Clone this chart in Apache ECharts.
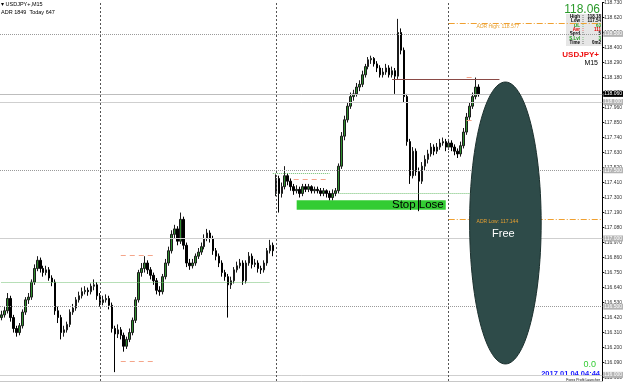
<!DOCTYPE html>
<html><head><meta charset="utf-8">
<script src="https://cdn.jsdelivr.net/npm/echarts@6/dist/echarts.min.js"></script>
<style>html,body{margin:0;padding:0;background:#fff}#c{width:625px;height:382px}</style>
</head><body><div id="c"></div>
<script>
// ---- data ----
const categories = Array.from({length: 202}, (_, i) => 'b' + i);
const opens = [116.42,116.44,116.47,116.56,116.42,116.34,116.31,116.36,116.46,116.55,
116.57,116.68,116.78,116.84,116.78,116.75,116.77,116.71,116.68,116.47,
116.42,116.31,116.33,116.37,116.46,116.49,116.55,116.58,116.61,116.62,
116.61,116.65,116.66,116.58,116.53,116.55,116.56,116.51,116.34,116.30,
116.33,116.29,116.21,116.26,116.31,116.40,116.55,116.75,116.78,116.82,
116.77,116.73,116.69,116.62,116.61,116.72,116.82,116.91,117.03,117.07,
116.98,117.14,116.95,116.82,116.80,116.82,116.87,116.90,116.94,117.00,
117.04,117.00,116.91,116.87,116.82,116.75,116.72,116.66,116.69,116.77,
116.80,116.82,116.69,116.82,116.87,116.81,116.82,116.78,116.77,116.82,
116.91,116.95,117.33,117.44,117.33,117.38,117.46,117.42,117.38,117.35,
117.36,117.33,117.38,117.36,117.38,117.35,117.36,117.35,117.33,117.35,
117.33,117.30,117.33,117.35,117.53,117.75,117.87,117.97,118.04,118.06,
118.11,118.13,118.20,118.26,118.31,118.32,118.28,118.25,118.20,118.22,
118.25,118.20,118.23,118.19,118.51,118.38,118.04,117.71,117.46,117.64,
117.49,117.42,117.53,117.58,117.62,117.67,117.64,117.67,117.70,117.71,
117.67,117.70,117.67,117.64,117.62,117.68,117.78,117.89,117.97,118.04,
118.11];
const closes = [116.44,116.47,116.56,116.42,116.34,116.31,116.36,116.46,116.55,116.57,
116.68,116.78,116.84,116.78,116.75,116.77,116.71,116.68,116.47,116.42,
116.31,116.33,116.37,116.46,116.49,116.55,116.58,116.61,116.62,116.61,
116.65,116.66,116.58,116.53,116.55,116.56,116.51,116.34,116.30,116.33,
116.29,116.21,116.26,116.31,116.40,116.55,116.75,116.78,116.82,116.77,
116.73,116.69,116.62,116.61,116.72,116.82,116.91,117.03,117.07,116.98,
117.14,116.95,116.82,116.80,116.82,116.87,116.90,116.94,117.00,117.04,
117.00,116.91,116.87,116.82,116.75,116.72,116.66,116.69,116.77,116.80,
116.82,116.69,116.82,116.87,116.81,116.82,116.78,116.77,116.82,116.91,
116.95,116.91,117.44,117.33,117.38,117.46,117.42,117.38,117.35,117.36,
117.33,117.38,117.36,117.38,117.35,117.36,117.35,117.33,117.35,117.33,
117.30,117.33,117.35,117.53,117.75,117.87,117.97,118.04,118.06,118.11,
118.13,118.20,118.26,118.31,118.32,118.28,118.25,118.20,118.22,118.25,
118.20,118.23,118.19,118.51,118.38,118.04,117.71,117.46,117.64,117.49,
117.42,117.53,117.58,117.62,117.67,117.64,117.67,117.70,117.71,117.67,
117.70,117.67,117.64,117.62,117.68,117.78,117.89,117.97,118.04,118.11,
118.06];
const highs = [116.47,116.50,116.60,116.58,116.44,116.36,116.38,116.48,116.57,116.60,
116.70,116.81,116.87,116.86,116.80,116.80,116.79,116.73,116.70,116.50,
116.44,116.36,116.39,116.48,116.52,116.57,116.61,116.64,116.65,116.64,
116.67,116.70,116.68,116.60,116.58,116.59,116.58,116.53,116.36,116.37,
116.35,116.31,116.28,116.34,116.42,116.57,116.77,116.82,116.87,116.84,
116.79,116.75,116.71,116.65,116.74,116.85,116.94,117.06,117.10,117.09,
117.19,117.16,116.97,116.85,116.85,116.89,116.93,116.97,117.03,117.07,
117.06,117.02,116.93,116.89,116.84,116.77,116.74,116.72,116.79,116.83,
116.85,116.84,116.84,116.90,116.89,116.85,116.84,116.80,116.84,116.93,
116.99,116.97,117.47,117.46,117.41,117.53,117.48,117.44,117.40,117.39,
117.38,117.40,117.40,117.40,117.39,117.38,117.38,117.37,117.37,117.36,
117.35,117.36,117.37,117.55,117.78,117.90,118.00,118.07,118.09,118.14,
118.16,118.23,118.28,118.33,118.34,118.33,118.30,118.27,118.25,118.28,
118.27,118.26,118.25,118.61,118.54,118.40,118.06,117.73,117.67,117.66,
117.52,117.56,117.61,117.65,117.70,117.69,117.70,117.73,117.74,117.73,
117.73,117.72,117.69,117.66,117.71,117.81,117.92,118.00,118.07,118.18,
118.13];
const lows = [116.40,116.42,116.45,116.39,116.31,116.28,116.29,116.34,116.44,116.52,
116.55,116.66,116.76,116.75,116.72,116.73,116.69,116.65,116.44,116.38,
116.26,116.28,116.31,116.35,116.44,116.47,116.53,116.56,116.59,116.58,
116.59,116.62,116.55,116.50,116.51,116.53,116.48,116.31,116.02,116.27,
116.26,116.17,116.19,116.24,116.29,116.38,116.53,116.72,116.75,116.74,
116.70,116.66,116.59,116.58,116.59,116.70,116.80,116.89,117.00,116.95,
116.96,116.92,116.79,116.77,116.78,116.80,116.85,116.88,116.92,116.98,
116.97,116.88,116.84,116.79,116.72,116.69,116.42,116.63,116.67,116.75,
116.78,116.66,116.67,116.80,116.78,116.79,116.75,116.74,116.75,116.80,
116.89,116.87,117.31,117.19,117.30,117.36,117.39,117.35,117.32,117.33,
117.30,117.31,117.34,117.34,117.33,117.33,117.33,117.31,117.31,117.30,
117.28,117.28,117.31,117.33,117.51,117.72,117.85,117.95,118.01,118.04,
118.08,118.11,118.18,118.24,118.28,118.26,118.22,118.18,118.18,118.20,
118.18,118.18,118.06,118.17,118.35,118.00,117.68,117.40,117.44,117.46,
117.20,117.40,117.50,117.55,117.60,117.61,117.62,117.65,117.68,117.64,
117.65,117.64,117.61,117.59,117.60,117.66,117.76,117.87,117.95,118.02,
118.04];
const yTicks = [115.98,116.09,116.20,116.31,116.42,116.53,116.64,116.75,116.86,116.97,117.08,117.19,117.30,117.41,117.52,117.63,117.74,117.85,117.96,118.07,118.18,118.29,118.40,118.51,118.62,118.73];
const roundLevels = [118.5, 118.0, 117.5, 117.0, 116.5, 116.0];
const currentPrice = 118.06;
const adrHigh = 118.577, adrLow = 117.144;
const daySeparators = [33, 92, 150];
const stopLose = {from: 99, to: 149, top: 117.28, bottom: 117.21};
const freeZone = [157, 181, 118.147, 116.08];

const candleData = opens.map((o, i) => [o, closes[i], lows[i], highs[i]]);
const seg = (a, b, v, style) => [{coord: [a, v], lineStyle: style}, {coord: [b, v]}];
const dotG = {type: 'dotted', color: '#6fbf6f', width: 1};
const salmon = {type: [5, 4], color: '#f4a58a', width: 1};
const adrStyle = {type: [6, 2, 1, 2], color: '#f0a030', width: 1};

const markLines = [];
roundLevels.forEach(v => {
  const half = Math.abs(v % 1 - 0.5) < 1e-6;
  markLines.push({yAxis: v,
    lineStyle: {type: half ? 'dotted' : 'solid', color: half ? '#9a9a9a' : '#cfcfcf', width: 1},
    label: {show: true, position: 'end', distance: 1, formatter: () => v.toFixed(3), fontSize: 5,
      color: '#fff', backgroundColor: '#b4b4b4', padding: [1, 1, 0, 1], fontFamily: 'Liberation Sans'}});
});
markLines.push({yAxis: currentPrice, lineStyle: {type: 'solid', color: '#bdbdbd', width: 1},
  label: {show: true, position: 'end', distance: 1, formatter: () => currentPrice.toFixed(3), fontSize: 5,
    color: '#fff', backgroundColor: '#000', padding: [1, 1, 0, 1], fontFamily: 'Liberation Sans'}});
daySeparators.forEach(x => markLines.push({xAxis: x, lineStyle: {type: [2, 2], color: '#555', width: 1}}));
markLines.push(seg(150, 201, adrHigh, adrStyle));
markLines.push(seg(150, 201, adrLow, adrStyle));
markLines.push(seg(131, 167, 118.169, {type: 'solid', color: '#8a4a46', width: 1}));
markLines.push(seg(0, 90, 116.68, dotG));
markLines.push(seg(91, 110, 117.48, dotG));
markLines.push(seg(113, 160, 117.33, dotG));
markLines.push(seg(40, 52, 116.88, salmon));
markLines.push(seg(40, 52, 116.10, salmon));
markLines.push(seg(98, 110, 117.436, salmon));
markLines.push(seg(156, 159, 118.183, salmon));
markLines.push(seg(156, 159, 117.864, salmon));

const chart = echarts.init(document.getElementById('c'), null, {renderer: 'canvas'});
const small = 'Liberation Sans';
const panelRows = [['High', '118.18', '#000'], ['Low', '117.54', '#000'], ['DL', '63', '#1a9a1a'],
  ['Avr', '111', '#e00000'], ['Sprd', '5', '#000'], ['S.Lvl', '3', '#1a9a1a'], ['Time', '0m2', '#000']];
const panelChildren = [{type: 'rect', shape: {x: 566, y: 14, width: 36, height: 32}, style: {fill: '#e6e6e6'}}];
panelRows.forEach((r, k) => {
  const y = 16.5 + k * 4.4;
  panelChildren.push({type: 'text', x: 580, y: y, style: {text: r[0], fill: r[2], font: 'bold 4.5px ' + small, align: 'right', verticalAlign: 'middle'}});
  panelChildren.push({type: 'text', x: 583, y: y, style: {text: ':', fill: r[2], font: 'bold 4.5px ' + small, align: 'center', verticalAlign: 'middle'}});
  panelChildren.push({type: 'text', x: 601, y: y, style: {text: r[1], fill: r[2], font: 'bold 4.5px ' + small, align: 'right', verticalAlign: 'middle'}});
});

chart.setOption({
  animation: false,
  backgroundColor: '#fff',
  grid: {left: 0, right: 19, top: 0, bottom: 1, containLabel: false},
  xAxis: {type: 'category', data: categories, boundaryGap: true,
    axisLine: {show: true, lineStyle: {color: '#c8c8c8'}}, axisTick: {show: false}, axisLabel: {show: false}, splitLine: {show: false}},
  yAxis: {type: 'value', position: 'right', min: 115.955, max: 118.73, scale: true,
    axisLine: {show: true, lineStyle: {color: '#000', width: 1}},
    axisTick: {show: true, length: 2, lineStyle: {color: '#000'}, customValues: yTicks},
    axisLabel: {show: true, margin: 2, fontSize: 5, color: '#333', fontFamily: small, customValues: yTicks, formatter: v => v.toFixed(3)},
    splitLine: {show: false}},
  series: [
    {type: 'candlestick', data: candleData, barWidth: 2, z: 2,
      itemStyle: {color: '#2f8f2f', color0: '#000', borderColor: '#1b1b1b', borderColor0: '#000', borderWidth: 1},
      markLine: {symbol: ['none', 'none'], silent: true, label: {show: false}, data: markLines, animation: false},
      markArea: {silent: true, itemStyle: {color: '#33cc33'},
        label: {show: true, position: 'insideRight', distance: 2, color: '#000', fontSize: 11.5, fontFamily: small},
        data: [[{name: 'Stop Lose', coord: [stopLose.from, stopLose.top]}, {coord: [stopLose.to, stopLose.bottom]}]]}},
    {type: 'custom', z: 5, silent: true, data: [freeZone],
      encode: {x: [0, 1], y: [2, 3]},
      renderItem: function (params, api) {
        const p1 = api.coord([api.value(0), api.value(2)]);
        const p2 = api.coord([api.value(1), api.value(3)]);
        const cx = (p1[0] + p2[0]) / 2, cy = (p1[1] + p2[1]) / 2;
        const rx = Math.abs(p2[0] - p1[0]) / 2, ry = Math.abs(p2[1] - p1[1]) / 2;
        const pts = [];
        for (let k = 0; k < 120; k++) { const a = k / 120 * Math.PI * 2; pts.push([cx + rx * Math.cos(a), cy + ry * Math.sin(a)]); }
        return {type: 'group', children: [
          {type: 'polygon', shape: {points: pts}, style: {fill: '#2e4b49', stroke: '#1c302e', lineWidth: 1}},
          {type: 'text', x: cx - 2, y: cy + 11, style: {text: 'Free', fill: '#fff', font: '11px ' + small, align: 'center', verticalAlign: 'middle'}}
        ]};
      }},
    {type: 'custom', z: 6, silent: true, data: [[159, adrHigh], [159, adrLow]],
      encode: {x: 0, y: 1},
      renderItem: function (params, api) {
        const p = api.coord([api.value(0), api.value(1)]);
        return {type: 'text', x: p[0] + 1, y: p[1] + 3, style: {text: params.dataIndex === 0 ? 'ADR High: ' + adrHigh.toFixed(3) : 'ADR Low: ' + adrLow.toFixed(3),
          fill: '#e8a030', font: '5px ' + small, align: 'left', verticalAlign: 'middle'}};
      }}
  ],
  graphic: [
    {type: 'text', x: 1, y: 1, style: {text: '\u25BE USDJPY+,M15', fill: '#000', font: '5.5px ' + small}},
    {type: 'text', x: 1, y: 9, style: {text: 'ADR 1849  Today 647', fill: '#000', font: '5.5px ' + small}},
    {type: 'text', x: 600, y: 4, style: {text: '118.06', fill: '#2a9a2a', font: '12px ' + small, align: 'right'}},
    {type: 'group', children: panelChildren},
    {type: 'text', x: 599, y: 55, style: {text: 'USDJPY+', fill: '#ee1111', font: 'bold 8px ' + small, align: 'right', verticalAlign: 'middle'}},
    {type: 'text', x: 598, y: 63, style: {text: 'M15', fill: '#000', font: '7px ' + small, align: 'right', verticalAlign: 'middle'}},
    {type: 'text', x: 596, y: 365, style: {text: '0.0', fill: '#33cc33', font: '9px ' + small, align: 'right', verticalAlign: 'middle'}},
    {type: 'text', x: 600, y: 374, style: {text: '2017.01.04 04:44', fill: '#1a1aff', font: 'bold 7.5px ' + small, align: 'right', verticalAlign: 'middle'}},
    {type: 'text', x: 600, y: 380, style: {text: 'Forex Profit Launcher', fill: '#000', font: '3.5px ' + small, align: 'right', verticalAlign: 'middle'}}
  ]
});
</script></body></html>
